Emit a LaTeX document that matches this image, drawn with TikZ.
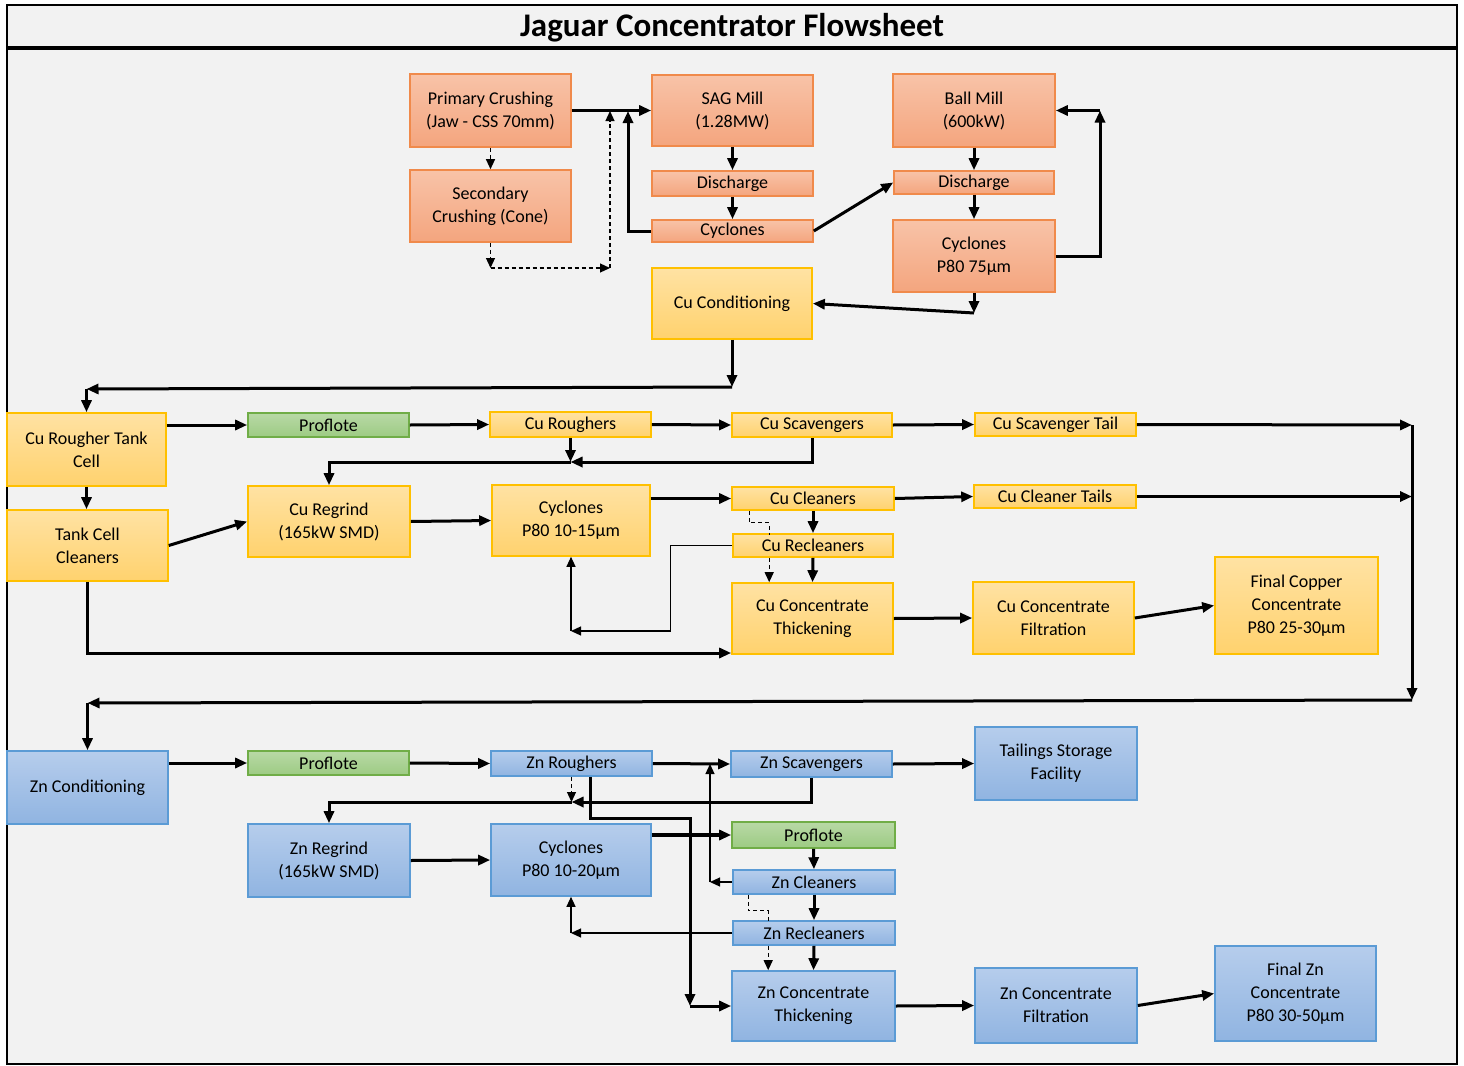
\documentclass[tikz,border=0pt]{standalone}
\usepackage{fontspec}
\setmainfont{Carlito}
\usepackage{xcolor}
\usetikzlibrary{arrows.meta}
\definecolor{bgcol}{HTML}{F2F2F2}
\definecolor{oratop}{HTML}{F8C3A8}
\definecolor{orabot}{HTML}{F4A57E}
\definecolor{oraline}{HTML}{F08A4B}
\definecolor{yeltop}{HTML}{FFE2A3}
\definecolor{yelbot}{HTML}{FFD26E}
\definecolor{yelline}{HTML}{FFC000}
\definecolor{blutop}{HTML}{B6CDEC}
\definecolor{blubot}{HTML}{90B4E1}
\definecolor{bluline}{HTML}{5B9BD5}
\definecolor{grntop}{HTML}{B8D9A6}
\definecolor{grnbot}{HTML}{9DCB83}
\definecolor{grnline}{HTML}{70AD47}
\tikzset{
  box/.style={draw, line width=0.8pt, align=center, inner sep=1pt,
    font=\fontsize{9}{11.5}\selectfont},
  sz/.style 2 args={minimum width=#1*0.5pt, minimum height=#2*0.5pt},
  ora/.style={box, draw=oraline, top color=oratop, bottom color=orabot},
  yel/.style={box, draw=yelline, top color=yeltop, bottom color=yelbot},
  blu/.style={box, draw=bluline, top color=blutop, bottom color=blubot},
  grn/.style={box, draw=grnline, top color=grntop, bottom color=grnbot},
  thk/.style={line width=1.5pt, -{Triangle[length=6pt,width=5pt]}},
  thkk/.style={line width=2.2pt, -{Triangle[length=6pt,width=5pt]}},
  thn/.style={line width=0.6pt, -{Triangle[length=5pt,width=4.5pt]}},
  dsh/.style={line width=0.6pt, dash pattern=on 2pt off 1.5pt, -{Triangle[length=5pt,width=4.5pt]}},
  dshl/.style={line width=0.6pt, dash pattern=on 2pt off 1.5pt}
}
\begin{document}
\begin{tikzpicture}[x=0.5pt, y=-0.5pt]
	\useasboundingbox (0,0) rectangle (1464,1066);
	\fill[white] (0,0) rectangle (1464,1066);
	% 边框与标题
	\filldraw[fill=bgcol, draw=black, line width=1pt] (7,5) rectangle (1457,1064);
	\draw[line width=1.6pt] (7,48) -- (1457,48);
	\node[font=\fontsize{16.5}{20}\selectfont\bfseries] (title) at (732,28) {Jaguar Concentrator Flowsheet};
	% 破碎与磨矿
	\node[ora, sz={161}{73}] (pc) at (490.5,110.5) {Primary Crushing\\(Jaw - CSS 70mm)};
	\node[ora, sz={161}{72}] (sc) at (490.5,206) {Secondary\\Crushing (Cone)};
	\node[ora, sz={161}{71}] (sag) at (732.5,110.5) {SAG Mill\\(1.28MW)};
	\node[ora, sz={161}{25}] (sagdis) at (732.5,183.5) {Discharge};
	\node[ora, sz={161}{22}] (sagcyc) at (732.5,231) {Cyclones};
	\node[ora, sz={162}{73}] (ball) at (974,110.5) {Ball Mill\\(600kW)};
	\node[ora, sz={160}{23}] (balldis) at (974,182.5) {Discharge};
	\node[ora, sz={162}{72}] (ballcyc) at (974,256) {Cyclones\\P80 75µm};
	% 铜浮选
	\node[yel, sz={160}{71}] (cucond) at (732,303.5) {Cu Conditioning};
	\node[yel, sz={159}{73}] (cutank) at (86.5,449.5) {Cu Rougher Tank\\Cell};
	\node[yel, sz={161}{71}] (tankcl) at (87.5,545.5) {Tank Cell\\Cleaners};
	\node[grn, sz={161}{24}] (pfcu) at (328.5,425) {Proflote};
	\node[yel, sz={161}{25}] (curough) at (570.5,424.5) {Cu Roughers};
	\node[yel, sz={160}{24}] (cuscav) at (812,425) {Cu Scavengers};
	\node[yel, sz={161}{23}] (cuscavt) at (1055.5,424.5) {Cu Scavenger Tail};
	\node[yel, sz={162}{71}] (curegrind) at (329,521.5) {Cu Regrind\\(165kW SMD)};
	\node[yel, sz={158}{71}] (cucyc) at (571,520.5) {Cyclones\\P80 10-15µm};
	\node[yel, sz={162}{23}] (cuclean) at (813,498.5) {Cu Cleaners};
	\node[yel, sz={162}{23}] (cucleant) at (1055,496.5) {Cu Cleaner Tails};
	\node[yel, sz={160}{23}] (curecl) at (813,545.5) {Cu Recleaners};
	\node[yel, sz={161}{71}] (cuthick) at (812.5,618.5) {Cu Concentrate\\Thickening};
	\node[yel, sz={161}{72}] (cufilt) at (1053.5,618) {Cu Concentrate\\Filtration};
	\node[yel, sz={163}{97}] (cufinal) at (1296.5,605.5) {Final Copper\\Concentrate\\P80 25-30µm};
	% 锌浮选
	\node[blu, sz={161}{73}] (zncond) at (87.5,787.5) {Zn Conditioning};
	\node[grn, sz={161}{24}] (pfzn) at (328.5,763) {Proflote};
	\node[blu, sz={161}{25}] (znrough) at (571.5,763.5) {Zn Roughers};
	\node[blu, sz={161}{26}] (znscav) at (811.5,764) {Zn Scavengers};
	\node[blu, sz={162}{73}] (tsf) at (1056,763.5) {Tailings Storage\\Facility};
	\node[blu, sz={162}{73}] (znregrind) at (329,860.5) {Zn Regrind\\(165kW SMD)};
	\node[blu, sz={160}{72}] (zncyc) at (571,860) {Cyclones\\P80 10-20µm};
	\node[grn, sz={163}{26}] (pfcl) at (813.5,835) {Proflote};
	\node[blu, sz={162}{24}] (znclean) at (814,882) {Zn Cleaners};
	\node[blu, sz={162}{24}] (znrecl) at (814,933) {Zn Recleaners};
	\node[blu, sz={163}{70}] (znthick) at (813.5,1006) {Zn Concentrate\\Thickening};
	\node[blu, sz={162}{75}] (znfilt) at (1056,1005.5) {Zn Concentrate\\Filtration};
	\node[blu, sz={161}{95}] (znfinal) at (1295.5,993.5) {Final Zn\\Concentrate\\P80 30-50µm};
	% 转折点
	\coordinate (d1) at (490.5,268);
	\coordinate (d2) at (610,268);
	\coordinate (d3) at (610,111);
	\coordinate (r1) at (628,111);
	\coordinate (b1) at (1100,110.5);
	\coordinate (b2) at (974,313);
	\coordinate (c1) at (732,387);
	\coordinate (c2) at (86.5,389);
	\coordinate (t1) at (1412,425);
	\coordinate (t2) at (1412,700);
	\coordinate (t3) at (87.5,703);
	\coordinate (t4) at (1412,496.5);
	\coordinate (j1) at (570.5,462);
	\coordinate (k3) at (571,631);
	\coordinate (k4) at (87.5,653);
	\coordinate (z1) at (571.5,802);
	\coordinate (z2) at (690,818);
	\coordinate (z3) at (690,1006);
	\coordinate (z4) at (710,882);
	\coordinate (z5) at (571,933);
	% 连线: 破碎磨矿
	\draw[thk] (pc.east) -- (sag.west);
	\draw[dsh] (pc.south) -- (sc.north);
	\draw[dsh] (sc.south) -- (d1);
	\draw[dsh] (d1) -- (d2);
	\draw[dsh] (d2) -- (d3);
	\draw[thk] (sagcyc.west) -| (r1);
	\draw[thk] (sag.south) -- (sagdis.north);
	\draw[thk] (sagdis.south) -- (sagcyc.north);
	\draw[thk] (sagcyc.east) -- (balldis.west);
	\draw[thk] (ball.south) -- (balldis.north);
	\draw[thk] (balldis.south) -- (ballcyc.north);
	\draw[thk] (ballcyc.east) -| (b1);
	\draw[thk] (b1) -- (ball.east);
	\draw[thk] (ballcyc.south) -- (b2);
	\draw[thk] (b2) -- (cucond.east);
	\draw[thk] (cucond.south) -- (c1);
	\draw[thk] (c1) -- (c2);
	\draw[thk] (c2) -- (cutank.north);
	% 连线: 铜
	\draw[thk] (cutank.east |- pfcu.west) -- (pfcu.west);
	\draw[thk] (pfcu.east) -- (curough.west);
	\draw[thk] (curough.east) -- (cuscav.west);
	\draw[thk] (cuscav.east) -- (cuscavt.west);
	\draw[thk] (cuscavt.east) -- (t1);
	\draw[thk] (t1) -- (t2);
	\draw[thk] (t2) -- (t3);
	\draw[thk] (t3) -- (zncond.north);
	\draw[thk] (curough.south) -- (j1);
	\draw[thk] (cuscav.south) |- (j1);
	\draw[thk] (j1) -| (curegrind.north);
	\draw[thk] (cutank.south) -- (cutank.south |- tankcl.north);
	\draw[thk] (tankcl.east) -- (curegrind.west);
	\draw[thk] (curegrind.east) -- (cucyc.west);
	\draw[thk] (cucyc.east |- cuclean.west) -- (cuclean.west);
	\draw[thk] (cuclean.east) -- (cucleant.west);
	\draw[thk] (cucleant.east) -- (t4);
	\draw[thk] (cuclean.south) -- (curecl.north);
	\draw[dshl] ([xshift=9pt]cuclean.south west) -- ++(0,12) -- ++(20,0) -- ++(0,12);
	\draw[dsh] ([xshift=18.5pt]curecl.south west) -- ([xshift=19pt]cuthick.north west);
	\draw[thk] (curecl.south) -- (cuthick.north);
	\draw[thn] (curecl.west) -- ++(-62,0) |- (k3);
	\draw[thn] (k3) -- (cucyc.south);
	\draw[thk] (tankcl.south) -- (k4) -- (k4 -| cuthick.west);
	\draw[thk] (cuthick.east) -- (cufilt.west);
	\draw[thk] (cufilt.east) -- (cufinal.west);
	% 连线: 锌
	\draw[thk] (zncond.east |- pfzn.west) -- (pfzn.west);
	\draw[thk] (pfzn.east) -- (znrough.west);
	\draw[thk] (znrough.east) -- (znscav.west);
	\draw[thk] (znscav.east) -- (tsf.west);
	\draw[dsh] (znrough.south) -- (z1);
	\draw[thk] (znscav.south) |- (z1);
	\draw[thk] (z1) -| (znregrind.north);
	\draw[thk] (znregrind.east) -- (zncyc.west);
	\draw[thkk] (zncyc.east |- pfcl.west) -- (pfcl.west);
	\draw[thk] ([xshift=9.5pt]znrough.south) |- (z2) -- (z3);
	\draw[thk] (z3) -- (znthick.west);
	\draw[thk] (pfcl.south) -- (znclean.north);
	\draw[thn] (znclean.west) -- (z4);
	\draw[thn] (z4) -- (z4 |- znscav.west);
	\draw[thk] (znclean.south) -- (znrecl.north);
	\draw[dshl] ([xshift=8pt]znclean.south west) -- ++(0,16) -- ++(20,0) -- ++(0,11);
	\draw[thn] (znrecl.west) -- (z5);
	\draw[thn] (z5) -- (zncyc.south);
	\draw[dsh] ([xshift=18pt]znrecl.south west) -- ([xshift=18.5pt]znthick.north west);
	\draw[thk] (znrecl.south) -- (znthick.north);
	\draw[thk] (znthick.east) -- (znfilt.west);
	\draw[thk] (znfilt.east) -- (znfinal.west);
\end{tikzpicture}
\end{document}
